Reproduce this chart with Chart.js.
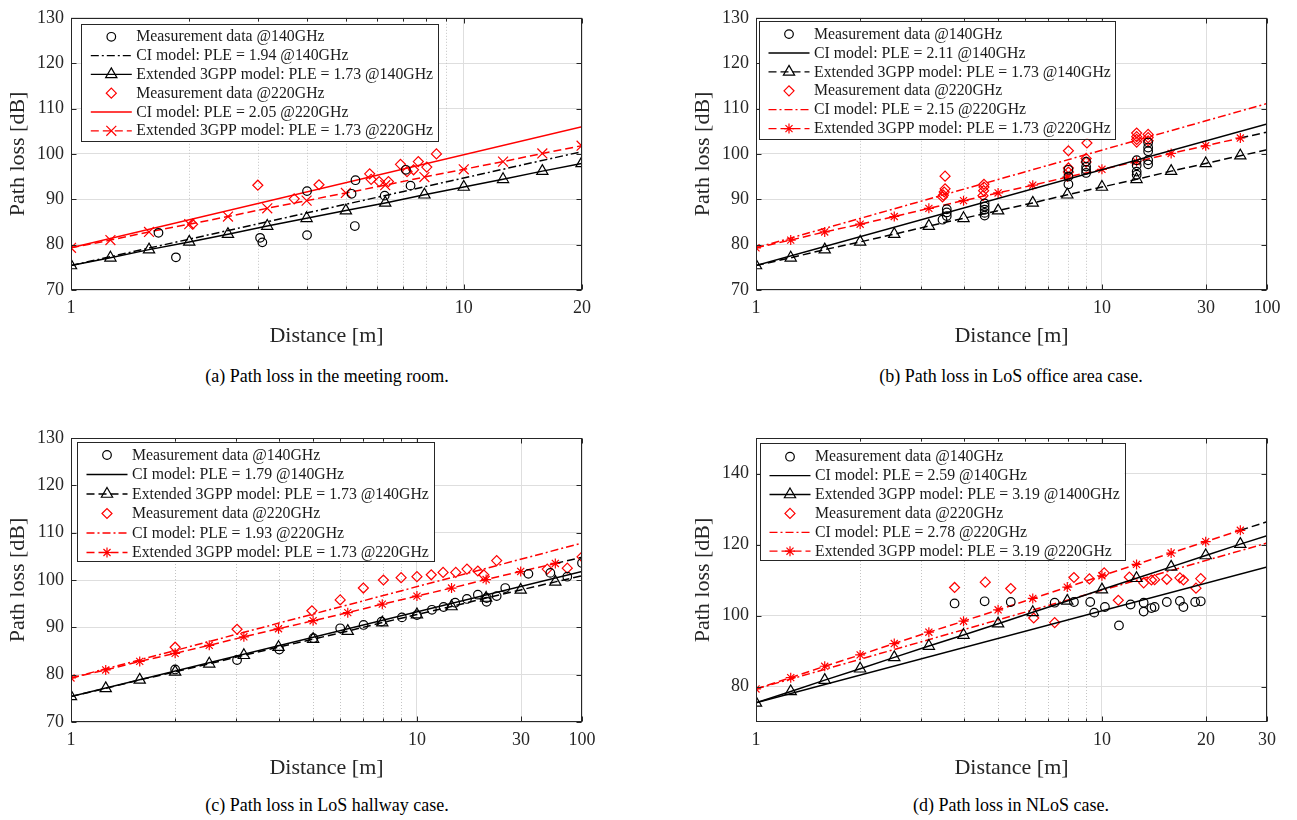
<!DOCTYPE html>
<html><head><meta charset="utf-8">
<script src="https://cdn.jsdelivr.net/npm/chart.js@4.4.1/dist/chart.umd.min.js"></script>
<style>
html,body{margin:0;padding:0;background:#fff;width:1297px;height:820px;overflow:hidden;position:relative;}
canvas{position:absolute;}
.cap{position:absolute;font-family:"Liberation Serif","Times New Roman",serif;font-size:18px;line-height:20px;color:#000;white-space:nowrap;transform:translateX(-50%);}
</style></head><body>
<canvas id="ca"></canvas><canvas id="cb"></canvas><canvas id="cc"></canvas><canvas id="cd"></canvas>
<div class="cap" style="left:327px;top:366px">(a) Path loss in the meeting room.</div>
<div class="cap" style="left:1011px;top:366px">(b) Path loss in LoS office area case.</div>
<div class="cap" style="left:327px;top:795px">(c) Path loss in LoS hallway case.</div>
<div class="cap" style="left:1011px;top:795px">(d) Path loss in NLoS case.</div>
<script>
// ---------- model marker distances (0.1-decade grid) ----------
const gridA   = [1, 1.26, 1.58, 2, 2.51, 3.16, 3.98, 5.01, 6.31, 7.94, 10, 12.59, 15.85, 19.95];
const gridBCD = [1, 1.26, 1.58, 2, 2.51, 3.16, 3.98, 5.01, 6.31, 7.94, 10, 12.59, 15.85, 19.95, 25.12, 30];

// ---------- (a) meeting room ----------
const a_meas140 = [[1.67,82.6],[1.85,77.2],[3.03,81.5],[3.07,80.5],[3.99,91.8],[3.99,82.1],[5.18,91.2],[5.30,94.2],[5.28,84.1],[6.29,90.8],[7.12,96.5],[7.32,93.0]];
const a_meas220 = [[2.04,84.5],[2.99,93.1],[3.70,90.1],[4.28,93.2],[5.76,95.6],[5.81,94.4],[6.09,93.9],[6.43,93.9],[6.90,97.7],[7.17,96.1],[7.45,96.5],[7.66,98.3],[8.05,97.1],[8.52,100.0]];
const a_ciDist = [1, 20];
const a_ci140  = [75.4, 100.5];
const a_ci220  = [79.3, 106.0];
const a_gpp140 = [75.4,77.1,78.9,80.6,82.3,84.1,85.8,87.5,89.2,91.0,92.7,94.4,96.2,97.9];
const a_gpp220 = [79.3,81.0,82.8,84.5,86.2,88.0,89.7,91.4,93.1,94.9,96.6,98.3,100.1,101.8];
const a_xTicks = [1, 10, 20];
const a_xLabels = ['1', '10', '20'];

// ---------- (b) LoS office area ----------
const b_meas140 = [[3.46,85.5],[3.56,86.3],[3.56,87.1],[3.56,87.8],[4.58,86.4],[4.58,87.0],[4.58,87.7],[4.58,88.4],[4.58,89.1],[8.0,93.3],[8.0,95.0],[8.0,96.5],[9.0,95.8],[9.0,96.5],[9.0,97.2],[9.0,98.3],[12.6,95.4],[12.6,96.1],[12.6,97.5],[12.6,98.6],[13.6,97.7],[13.6,98.6],[13.6,100.6],[13.6,101.4],[13.6,102.5]];
const b_meas220 = [[3.52,95.1],[3.52,92.3],[3.50,91.6],[3.48,90.9],[3.46,90.5],[4.56,93.3],[4.56,92.7],[4.55,91.9],[4.53,90.8],[8.0,100.7],[8.0,96.9],[8.0,96.0],[9.05,102.4],[9.0,99.0],[9.0,98.2],[12.6,104.6],[12.6,103.8],[12.6,103.2],[12.6,102.6],[13.6,104.3],[13.6,103.6],[13.6,102.9]];
const b_ciDist = [1, 30];
const b_ci140  = [75.4, 106.6];
const b_ci220  = [79.3, 111.1];
const b_gpp140 = [75.4,77.1,78.9,80.6,82.3,84.1,85.8,87.5,89.2,91.0,92.7,94.4,96.2,97.9,99.6,100.9];
const b_gpp220 = [79.3,81.0,82.8,84.5,86.2,88.0,89.7,91.4,93.1,94.9,96.6,98.3,100.1,101.8,103.5,104.8];
const b_xTicks = [1, 10, 20, 30];
const b_xLabels = ['1', '10', '30', '100'];

// ---------- (c) LoS hallway ----------
const c_meas140 = [[2,81.1],[3.02,83.1],[4.0,85.3],[5.02,87.7],[6.0,89.8],[7.01,90.5],[7.9,91.2],[9.05,92.1],[10.0,92.6],[11.05,93.7],[11.94,94.3],[12.9,95.2],[13.95,96.0],[15.0,96.9],[15.9,96.2],[15.9,95.4],[17.0,96.6],[18.0,98.3],[21.0,101.3],[24.3,101.5],[27.2,100.7],[30,103.6]];
const c_meas220 = [[2,85.8],[3.02,89.6],[4.97,93.5],[6.0,95.8],[7.0,98.3],[8.0,100.0],[9.0,100.5],[10.0,100.7],[11.0,101.1],[11.9,101.6],[12.95,101.6],[13.95,102.3],[15.0,101.9],[15.6,101.1],[17.0,104.1],[23.8,102.3],[27.2,102.5],[30,104.9]];
const c_ciDist = [1, 30];
const c_ci140  = [75.4, 101.8];
const c_ci220  = [79.3, 107.8];
const c_gpp140 = [75.4,77.1,78.9,80.6,82.3,84.1,85.8,87.5,89.2,91.0,92.7,94.4,96.2,97.9,99.6,100.9];
const c_gpp220 = [79.3,81.0,82.8,84.5,86.2,88.0,89.7,91.4,93.1,94.9,96.6,98.3,100.1,101.8,103.5,104.8];
const c_xTicks = [1, 10, 20, 30];
const c_xLabels = ['1', '10', '30', '100'];

// ---------- (d) NLoS ----------
const d_meas140 = [[3.75,103.4],[4.58,104.0],[5.45,103.8],[7.3,103.6],[8.3,103.8],[9.25,103.8],[9.5,100.8],[10.2,102.4],[11.2,97.2],[12.1,103.1],[13.2,103.6],[13.2,101.1],[13.9,102.1],[14.2,102.4],[15.4,103.8],[16.8,104.1],[17.2,102.4],[18.6,103.8],[19.3,104.0]];
const d_meas220 = [[3.75,107.9],[4.6,109.4],[5.45,107.6],[6.35,99.3],[7.3,98.0],[8.3,110.7],[9.2,110.3],[10.15,112.0],[11.15,104.3],[12.0,110.8],[13.2,109.2],[13.9,110.0],[14.2,110.1],[15.4,110.2],[16.8,110.6],[17.2,110.0],[18.7,107.7],[19.3,110.4]];
const d_ciDist = [1, 30];
const d_ci140  = [75.4, 113.7];
const d_ci220  = [79.3, 120.4];
const d_gpp140 = [75.4,78.6,81.8,85.0,88.2,91.4,94.5,97.7,100.9,104.1,107.3,110.5,113.7,116.9,120.1,122.5];
const d_gpp220 = [79.3,82.5,85.7,88.9,92.1,95.3,98.4,101.6,104.8,108.0,111.2,114.4,117.6,120.8,124.0,126.4];
const d_xTicks = [1, 10, 20, 30];
const d_xLabels = ['1', '10', '20', '30'];

const yTicks130 = [70, 80, 90, 100, 110, 120, 130];
const yTicks150 = [80, 100, 120, 140];
const minorX = [2, 3, 4, 5, 6, 7, 8, 9];

// ---------- styling ----------
const FONT = '"Liberation Serif", "Times New Roman", serif';
const AX = '#262626', GRID = '#dedede', MINOR = '#c4c4c4';
const RED = '#ff0000', BLK = '#000000';
const SOLID = [], DASH = [8, 4], DASHDOT = [8, 3, 2, 3];
const MK = { circle: 4.3, triangle: 6.5, rectRot: 5, crossRot: 7, star: 5 };

function xy(pairs) { return pairs.map(p => ({ x: p[0], y: p[1] })); }
function zipXY(xs, ys) { return xs.map((x, i) => ({ x, y: ys[i] })); }

function measSet(pairs, color, style, text) {
  return { data: xy(pairs), showLine: false, pointStyle: style, pointRadius: MK[style],
    pointBorderColor: color, pointBackgroundColor: 'rgba(0,0,0,0)', pointBorderWidth: 1.2,
    borderColor: color, leg: { text, marker: style, color } };
}
function lineSet(xs, ys, color, dash, text) {
  return { data: zipXY(xs, ys), showLine: true, borderColor: color, borderWidth: 1.5, borderDash: dash,
    pointRadius: 0, leg: { text, line: dash, color } };
}
function gppSet(xs, ys, color, dash, style, text, tailColor) {
  const n = xs.length;
  const ds = { data: zipXY(xs, ys), showLine: true, borderColor: color, borderWidth: 1.5, borderDash: dash,
    pointStyle: style, pointBorderColor: color, pointBackgroundColor: 'rgba(0,0,0,0)', pointBorderWidth: 1.2,
    pointRadius: tailColor ? (c => c.dataIndex === n - 1 ? 0 : MK[style]) : MK[style],
    leg: { text, line: dash, marker: style, color } };
  if (tailColor) ds.segment = { borderColor: c => c.p1DataIndex === n - 1 ? tailColor : color };
  return ds;
}

function drawMarker(ctx, style, x, y, r) {
  const o = r * Math.SQRT1_2;
  ctx.beginPath();
  if (style === 'circle') ctx.arc(x, y, r, 0, Math.PI * 2);
  else if (style === 'triangle') {
    ctx.moveTo(x, y - r);
    ctx.lineTo(x + r * Math.sin(2 * Math.PI / 3), y - r * Math.cos(2 * Math.PI / 3));
    ctx.lineTo(x + r * Math.sin(4 * Math.PI / 3), y - r * Math.cos(4 * Math.PI / 3));
    ctx.closePath();
  } else if (style === 'rectRot') {
    ctx.moveTo(x - r, y); ctx.lineTo(x, y - r); ctx.lineTo(x + r, y); ctx.lineTo(x, y + r); ctx.closePath();
  } else if (style === 'crossRot') {
    ctx.moveTo(x - o, y - o); ctx.lineTo(x + o, y + o); ctx.moveTo(x - o, y + o); ctx.lineTo(x + o, y - o);
  } else if (style === 'star') {
    ctx.moveTo(x - r, y); ctx.lineTo(x + r, y); ctx.moveTo(x, y - r); ctx.lineTo(x, y + r);
    ctx.moveTo(x - o, y - o); ctx.lineTo(x + o, y + o); ctx.moveTo(x - o, y + o); ctx.lineTo(x + o, y - o);
  }
  ctx.stroke();
}

// MATLAB-like axes: dotted minor grid, boxed axes with inward ticks, in-axes legend
const matlabAxes = {
  id: 'matlabAxes',
  beforeDatasetsDraw(chart, args, opts) {
    const { ctx, chartArea: ca, scales: { x } } = chart;
    ctx.save();
    ctx.strokeStyle = MINOR; ctx.lineWidth = 1; ctx.setLineDash([1, 2]);
    for (const v of minorX) {
      const px = Math.round(x.getPixelForValue(v)) + 0.5;
      ctx.beginPath(); ctx.moveTo(px, ca.top); ctx.lineTo(px, ca.bottom); ctx.stroke();
    }
    ctx.restore();
  },
  afterDatasetsDraw(chart, args, opts) {
    const { ctx, chartArea: ca, scales: { x, y } } = chart;
    ctx.save();
    ctx.strokeStyle = AX; ctx.lineWidth = 1; ctx.setLineDash([]);
    const L = Math.round(ca.left) + 0.5, R = Math.round(ca.right) - 0.5;
    const T = Math.round(ca.top) + 0.5, B = Math.round(ca.bottom) - 0.5;
    ctx.beginPath();
    for (const v of opts.xTicks) {
      const px = Math.round(x.getPixelForValue(v)) + 0.5;
      ctx.moveTo(px, B); ctx.lineTo(px, B - 5); ctx.moveTo(px, T); ctx.lineTo(px, T + 5);
    }
    for (const v of minorX) {
      const px = Math.round(x.getPixelForValue(v)) + 0.5;
      ctx.moveTo(px, B); ctx.lineTo(px, B - 3); ctx.moveTo(px, T); ctx.lineTo(px, T + 3);
    }
    for (const v of opts.yTicks) {
      const py = Math.round(y.getPixelForValue(v)) + 0.5;
      ctx.moveTo(L, py); ctx.lineTo(L + 5, py); ctx.moveTo(R, py); ctx.lineTo(R - 5, py);
    }
    ctx.stroke();
    ctx.strokeRect(L, T, R - L, B - T);

    // legend
    const g = opts.legend;
    const lx = ca.left + g.dx, ly = ca.top + g.dy;
    ctx.fillStyle = '#fff';
    ctx.fillRect(lx, ly, g.w, g.h);
    ctx.strokeStyle = AX; ctx.lineWidth = 1;
    ctx.strokeRect(Math.round(lx) + 0.5, Math.round(ly) + 0.5, Math.round(g.w), Math.round(g.h));
    const items = chart.data.datasets.filter(d => d.leg && !d.noLeg).sort((a, b) => a.legOrder - b.legOrder);
    items.forEach((d, i) => {
      const cy = ly + g.row0 + i * g.step;
      const info = d.leg;
      ctx.strokeStyle = info.color; ctx.lineWidth = 1.3;
      if (info.line) {
        ctx.setLineDash(info.line);
        ctx.beginPath(); ctx.moveTo(lx + 9.5, cy); ctx.lineTo(lx + 50.5, cy); ctx.stroke();
        ctx.setLineDash([]);
      }
      if (info.marker) { ctx.lineWidth = 1.2; drawMarker(ctx, info.marker, lx + 30, cy, MK[info.marker]); }
      ctx.fillStyle = '#1a1a1a';
      ctx.font = '15.8px ' + FONT;
      ctx.textBaseline = 'middle'; ctx.textAlign = 'left';
      ctx.fillText(info.text, lx + 55, cy + 0.5);
    });
    ctx.restore();
  }
};

function panel(cfg) {
  const cv = document.getElementById(cfg.id);
  cv.width = cfg.w; cv.height = cfg.h;
  cv.style.left = cfg.left + 'px'; cv.style.top = cfg.top + 'px';
  cfg.datasets.forEach((d, i) => { if (d.legOrder === undefined) d.legOrder = i; });
  new Chart(cv, {
    type: 'scatter',
    data: { datasets: cfg.datasets },
    options: {
      responsive: false, animation: false, events: [], devicePixelRatio: 1,
      layout: { padding: { left: 0, top: cfg.padTop, right: cfg.padRight, bottom: 0 } },
      plugins: {
        legend: { display: false }, tooltip: { enabled: false },
        matlabAxes: { xTicks: cfg.xTicks, yTicks: cfg.yTicks, legend: cfg.legend }
      },
      scales: {
        x: {
          type: 'logarithmic', min: 1, max: cfg.xMax,
          afterBuildTicks: s => { s.ticks = cfg.xTicks.map(v => ({ value: v })); },
          afterFit: s => { s.height = 60; },
          ticks: { autoSkip: false, maxRotation: 0, minRotation: 0, padding: 7, color: AX,
            font: { family: FONT, size: 18 }, callback: (v, i) => cfg.xLabels[i] },
          grid: { color: GRID, lineWidth: 1, drawTicks: false },
          border: { display: false },
          title: { display: true, text: 'Distance [m]', color: AX, font: { family: FONT, size: 22 },
            padding: { top: 0, bottom: 0.8 } }
        },
        y: {
          type: 'linear', min: cfg.yMin, max: cfg.yMax,
          afterBuildTicks: s => { s.ticks = cfg.yTicks.map(v => ({ value: v })); },
          afterFit: s => { s.width = cfg.yW; },
          ticks: { padding: 7, color: AX, font: { family: FONT, size: 18 } },
          grid: { color: GRID, lineWidth: 1, drawTicks: false },
          border: { display: false },
          title: { display: true, text: 'Path loss [dB]', color: AX, font: { family: FONT, size: 22 },
            padding: { top: cfg.yTitlePad, bottom: 0 } }
        }
      }
    },
    plugins: [matlabAxes]
  });
}

// (a)
panel({ id: 'ca', left: 0, top: 0, w: 648, h: 350, padTop: 7, padRight: 66, yW: 71, yTitlePad: 4.8,
  xMax: 20, xTicks: a_xTicks, xLabels: a_xLabels, yMin: 70, yMax: 130, yTicks: yTicks130,
  legend: { dx: 10.3, dy: 6.3, w: 357, h: 117, row0: 12.7, step: 18.8 },
  datasets: [
    measSet(a_meas140, BLK, 'circle', 'Measurement data @140GHz'),
    lineSet(a_ciDist, a_ci140, BLK, DASHDOT, 'CI model: PLE = 1.94 @140GHz'),
    gppSet(gridA, a_gpp140, BLK, SOLID, 'triangle', 'Extended 3GPP model: PLE = 1.73 @140GHz'),
    measSet(a_meas220, RED, 'rectRot', 'Measurement data @220GHz'),
    lineSet(a_ciDist, a_ci220, RED, SOLID, 'CI model: PLE = 2.05 @220GHz'),
    gppSet(gridA, a_gpp220, RED, DASH, 'crossRot', 'Extended 3GPP model: PLE = 1.73 @220GHz')
  ] });

// (b)
panel({ id: 'cb', left: 648, top: 0, w: 649, h: 350, padTop: 7, padRight: 30, yW: 108, yTitlePad: 41.8,
  xMax: 30, xTicks: b_xTicks, xLabels: b_xLabels, yMin: 70, yMax: 130, yTicks: yTicks130,
  legend: { dx: 3, dy: 3, w: 356, h: 118, row0: 13.3, step: 18.9 },
  datasets: [
    measSet(b_meas140, BLK, 'circle', 'Measurement data @140GHz'),
    lineSet(b_ciDist, b_ci140, BLK, SOLID, 'CI model: PLE = 2.11 @140GHz'),
    gppSet(gridBCD, b_gpp140, BLK, DASH, 'triangle', 'Extended 3GPP model: PLE = 1.73 @140GHz', BLK),
    measSet(b_meas220, RED, 'rectRot', 'Measurement data @220GHz'),
    lineSet(b_ciDist, b_ci220, RED, DASHDOT, 'CI model: PLE = 2.15 @220GHz'),
    gppSet(gridBCD, b_gpp220, RED, DASH, 'star', 'Extended 3GPP model: PLE = 1.73 @220GHz', BLK)
  ] });

// (c)
panel({ id: 'cc', left: 0, top: 420, w: 648, h: 362, padTop: 18, padRight: 66, yW: 71, yTitlePad: 4.8,
  xMax: 30, xTicks: c_xTicks, xLabels: c_xLabels, yMin: 70, yMax: 130, yTicks: yTicks130,
  legend: { dx: 6, dy: 4.3, w: 357, h: 119.4, row0: 12.7, step: 19.5 },
  datasets: [
    measSet(c_meas140, BLK, 'circle', 'Measurement data @140GHz'),
    lineSet(c_ciDist, c_ci140, BLK, SOLID, 'CI model: PLE = 1.79 @140GHz'),
    gppSet(gridBCD, c_gpp140, BLK, DASH, 'triangle', 'Extended 3GPP model: PLE = 1.73 @140GHz', BLK),
    measSet(c_meas220, RED, 'rectRot', 'Measurement data @220GHz'),
    lineSet(c_ciDist, c_ci220, RED, DASHDOT, 'CI model: PLE = 1.93 @220GHz'),
    gppSet(gridBCD, c_gpp220, RED, DASH, 'star', 'Extended 3GPP model: PLE = 1.73 @220GHz', BLK)
  ] });

// (d)
panel({ id: 'cd', left: 648, top: 420, w: 649, h: 362, padTop: 18, padRight: 30, yW: 108, yTitlePad: 41.8,
  xMax: 30, xTicks: d_xTicks, xLabels: d_xLabels, yMin: 70, yMax: 150, yTicks: yTicks150,
  legend: { dx: 4, dy: 5.3, w: 364.5, h: 117.4, row0: 13.4, step: 18.9 },
  datasets: [
    measSet(d_meas140, BLK, 'circle', 'Measurement data @140GHz'),
    lineSet(d_ciDist, d_ci140, BLK, SOLID, 'CI model: PLE = 2.59 @140GHz'),
    gppSet(gridBCD, d_gpp140, BLK, SOLID, 'triangle', 'Extended 3GPP model: PLE = 3.19 @1400GHz', BLK),
    measSet(d_meas220, RED, 'rectRot', 'Measurement data @220GHz'),
    lineSet(d_ciDist, d_ci220, RED, DASHDOT, 'CI model: PLE = 2.78 @220GHz'),
    gppSet(gridBCD, d_gpp220, RED, DASH, 'star', 'Extended 3GPP model: PLE = 3.19 @220GHz', BLK)
  ] });
</script>
</body></html>
